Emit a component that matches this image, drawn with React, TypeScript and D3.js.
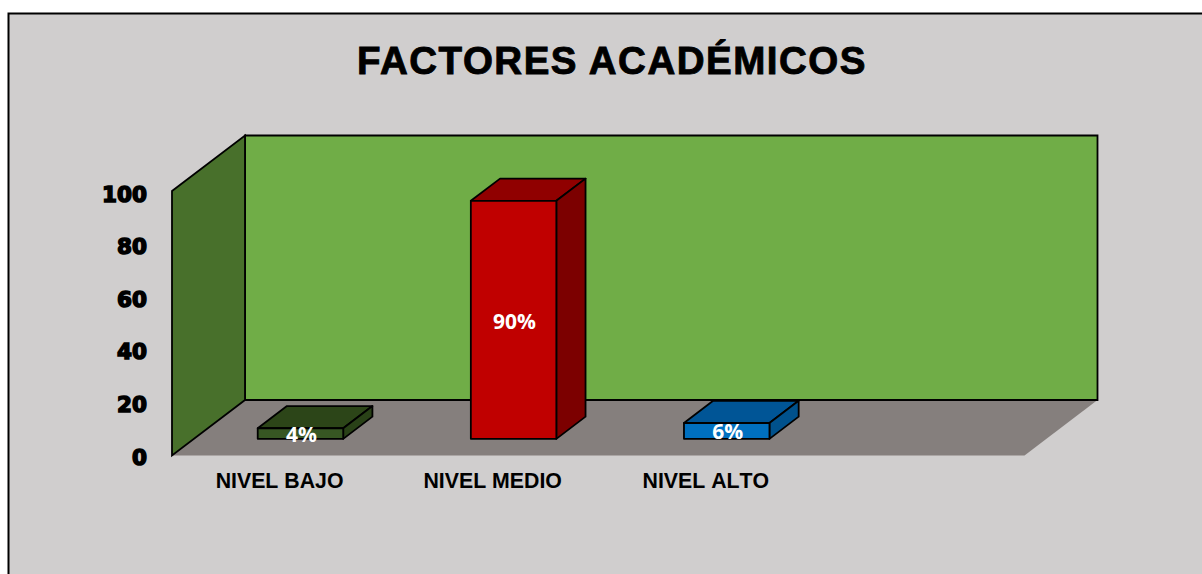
import React from "react";
import * as d3 from "d3";

const categories = ["NIVEL BAJO", "NIVEL MEDIO", "NIVEL ALTO", ""];
const values = [4, 90, 6];
const valueLabels = ["4%", "90%", "6%"];
const tickValues = [0, 20, 40, 60, 80, 100];
const frontColors = ["#375623", "#C00000", "#0070C0"];
const topColors = ["#2C4518", "#900000", "#005596"];
const sideColors = ["#294117", "#7C0000", "#00518C"];
const labelOffsets = [3.5, -110, 0];

const W = 1202, H = 574;
const x0 = 172, x1 = 1024.5, y0 = 455.5, y100 = 191;
const depthX = 73, depthY = 55.5;
const barDepth = 0.4; // share of the floor depth used by a bar
const barStart = 0.3; // where a bar begins in the floor depth

const x = d3.scaleBand<string>().domain(categories).range([x0, x1]);
const y = d3.scaleLinear().domain([0, 100]).range([y0, y100]);
const yTick = d3.scaleLinear().domain([0, 100]).range([y0, y100 + 1.5]);
const poly = (pts: [number, number][]) => "M" + pts.map((p) => p.join(",")).join("L") + "Z";

export default function App() {
  const bw = 85.5;
  return (
    <svg width={W} height={H} style={{ position: "absolute", left: 0, top: 0, display: "block" }}>
      <rect x={0} y={0} width={W} height={H} fill="#fff" />
      <rect x={8.5} y={13.5} width={W} height={H} fill="#D0CECE" stroke="#000" strokeWidth={2} />
      <text x={612} y={74} textAnchor="middle" fontFamily="Liberation Sans" fontWeight={700} fontSize={38.5} letterSpacing={1.5} stroke="#000" strokeWidth={0.9}>
        FACTORES ACADÉMICOS
      </text>
      {/* floor */}
      <path d={poly([[x0, y0], [x1, y0], [x1 + depthX, y0 - depthY], [x0 + depthX, y0 - depthY]])} fill="#857F7D" />
      {/* back wall */}
      <path d={poly([[x0 + depthX, y100 - depthY], [x1 + depthX, y100 - depthY], [x1 + depthX, y0 - depthY], [x0 + depthX, y0 - depthY]])} fill="#70AD47" stroke="#000" strokeWidth={1.8} />
      {/* left wall */}
      <path d={poly([[x0, y100], [x0 + depthX, y100 - depthY], [x0 + depthX, y0 - depthY], [x0, y0]])} fill="#48702B" stroke="#000" strokeWidth={1.8} />
      {tickValues.map((t) => (
        <text key={t} x={147} y={yTick(t) + 9} textAnchor="end" fontFamily="DejaVu Sans" fontWeight={700} fontSize={21.5} stroke="#000" strokeWidth={1.5}>
          {t}
        </text>
      ))}
      {values.map((v, i) => {
        const c = x(categories[i])! + x.bandwidth() / 2 + depthX * barStart;
        const left = c - bw / 2, right = c + bw / 2;
        const base = y(0) - depthY * barStart;
        const top = base - (y(0) - y(v));
        const dx = depthX * barDepth, dy = depthY * barDepth;
        return (
          <g key={i} stroke="#000" strokeWidth={1.8} strokeLinejoin="round">
            <path d={poly([[left, top], [right, top], [right + dx, top - dy], [left + dx, top - dy]])} fill={topColors[i]} />
            <path d={poly([[right, top], [right + dx, top - dy], [right + dx, base - dy], [right, base]])} fill={sideColors[i]} />
            <rect x={left} y={top} width={bw} height={base - top} fill={frontColors[i]} />
          </g>
        );
      })}
      {values.map((v, i) => {
        const c = x(categories[i])! + x.bandwidth() / 2 + depthX * barStart;
        const base = y(0) - depthY * barStart;
        return (
          <text key={i} x={c + 1} y={base + labelOffsets[i]} textAnchor="middle" fill="#fff" fontFamily="Open Sans" fontWeight={700} fontSize={21}>
            {valueLabels[i]}
          </text>
        );
      })}
      {categories.filter(Boolean).map((cat) => (
        <text key={cat} x={x(cat)! + x.bandwidth() / 2 + 1} y={488} textAnchor="middle" fontFamily="Liberation Sans" fontWeight={700} fontSize={21.3} fill="#000" style={{ fontKerning: "none" }}>
          {cat}
        </text>
      ))}
    </svg>
  );
}
